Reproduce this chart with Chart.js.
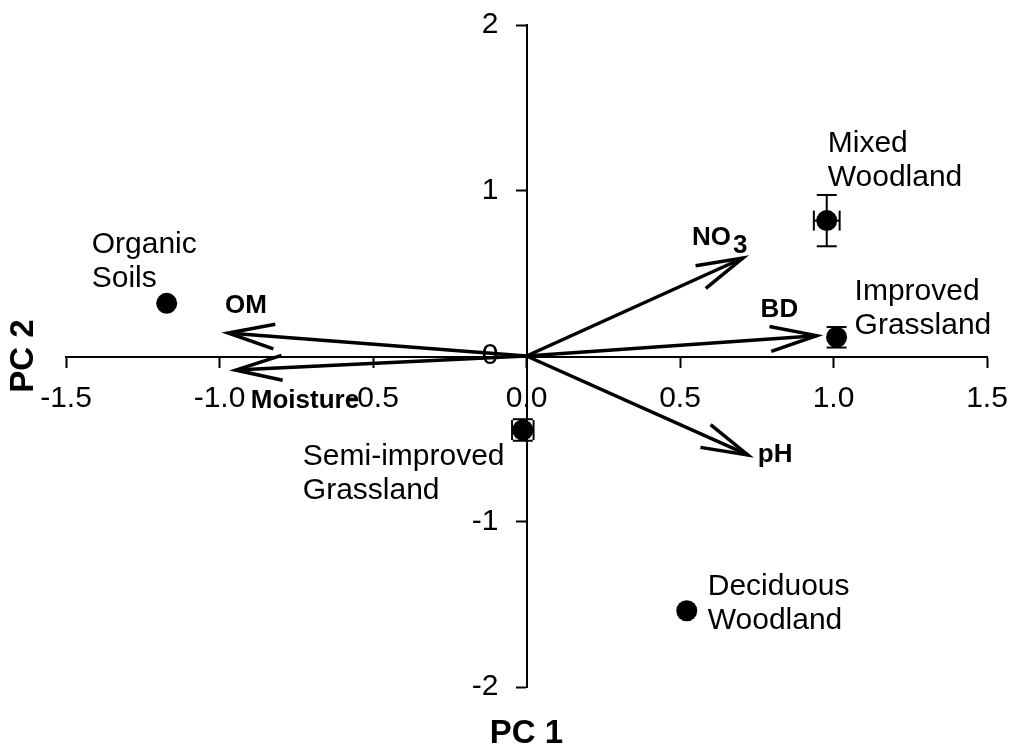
<!DOCTYPE html>
<html>
<head>
<meta charset="utf-8">
<script src="https://cdn.jsdelivr.net/npm/chart.js@4.4.1/dist/chart.umd.min.js"></script>
<style>
  html, body { margin: 0; padding: 0; background: #fff; }
  #wrap { width: 1012px; height: 751px; }
</style>
</head>
<body>
<div id="wrap"><canvas id="biplot" width="1012" height="751"></canvas></div>
<script>
// Site scores (mean PC1 / PC2 with standard errors)
const siteNames = [['Organic', 'Soils'], ['Mixed', 'Woodland'], ['Improved', 'Grassland'], ['Semi-improved', 'Grassland'], ['Deciduous', 'Woodland']];
const siteX = [-1.172, 0.978, 1.010, -0.012, 0.522];
const siteY = [0.318, 0.818, 0.113, -0.447, -1.539];
const siteXErr = [0, 0.042, 0, 0.035, 0];
const siteYErr = [0, 0.155, 0.062, 0.065, 0];

// Variable loadings (arrow tips)
const varNames = ['OM', 'Moisture', 'NO3', 'BD', 'pH'];
const varX = [-0.972, -0.947, 0.705, 0.945, 0.721];
const varY = [0.139, -0.085, 0.592, 0.123, -0.598];

// Axis tick labels
const xTickLabels = ['-1.5', '-1.0', '-0.5', '0.0', '0.5', '1.0', '1.5'];
const yTickLabels = ['-2', '-1', '0', '1', '2'];

const FAMILY = '"Liberation Sans", Arial, Helvetica, sans-serif';

// Label placement in pixels relative to the marker / arrow tip: [dx, first baseline dy]
const siteLabelOffset = [[-75, -50], [1, -69], [18, -37], [-220, 35], [21, -16]];
const siteLineGap = 34;
const varLabelOffset = [[-3, -20], [15, 38], [-51, -13], [-56, -19], [10, 7]];

const HEAD_LEN = 48;
const HEAD_ANGLE = 15 * Math.PI / 180;
const CAP = 10;

function seg(ctx, x1, y1, x2, y2) {
  ctx.beginPath(); ctx.moveTo(x1, y1); ctx.lineTo(x2, y2); ctx.stroke();
}

const biplotExtras = {
  id: 'biplotExtras',
  afterDatasetsDraw(chart) {
    const { ctx, scales: { x, y } } = chart;
    ctx.save();
    ctx.strokeStyle = '#000';
    ctx.fillStyle = '#000';

    // error bars with caps
    ctx.lineWidth = 2;
    siteX.forEach((sx, i) => {
      const px = x.getPixelForValue(sx);
      const py = y.getPixelForValue(siteY[i]);
      if (siteXErr[i] > 0) {
        const l = x.getPixelForValue(sx - siteXErr[i]);
        const r = x.getPixelForValue(sx + siteXErr[i]);
        seg(ctx, l, py, r, py);
        seg(ctx, l, py - CAP, l, py + CAP);
        seg(ctx, r, py - CAP, r, py + CAP);
      }
      if (siteYErr[i] > 0) {
        const t = y.getPixelForValue(siteY[i] + siteYErr[i]);
        const b = y.getPixelForValue(siteY[i] - siteYErr[i]);
        seg(ctx, px, t, px, b);
        seg(ctx, px - CAP, t, px + CAP, t);
        seg(ctx, px - CAP, b, px + CAP, b);
      }
    });

    // open arrowheads on the loading vectors
    ctx.lineWidth = 3.5;
    ctx.lineJoin = 'miter';
    const ox = x.getPixelForValue(0), oy = y.getPixelForValue(0);
    varX.forEach((vx, i) => {
      const tx = x.getPixelForValue(vx), ty = y.getPixelForValue(varY[i]);
      const a = Math.atan2(ty - oy, tx - ox) + Math.PI;
      ctx.beginPath();
      ctx.moveTo(tx + HEAD_LEN * Math.cos(a + HEAD_ANGLE), ty + HEAD_LEN * Math.sin(a + HEAD_ANGLE));
      ctx.lineTo(tx, ty);
      ctx.lineTo(tx + HEAD_LEN * Math.cos(a - HEAD_ANGLE), ty + HEAD_LEN * Math.sin(a - HEAD_ANGLE));
      ctx.stroke();
    });

    // site labels
    ctx.textAlign = 'left';
    ctx.textBaseline = 'alphabetic';
    ctx.font = '30px ' + FAMILY;
    siteNames.forEach((lines, i) => {
      const px = x.getPixelForValue(siteX[i]);
      const py = y.getPixelForValue(siteY[i]);
      const [dx, dy] = siteLabelOffset[i];
      lines.forEach((t, k) => ctx.fillText(t, px + dx, py + dy + k * siteLineGap));
    });

    // variable labels (NO3 gets a subscript)
    ctx.font = 'bold 26px ' + FAMILY;
    varNames.forEach((name, i) => {
      const tx = x.getPixelForValue(varX[i]);
      const ty = y.getPixelForValue(varY[i]);
      const [dx, dy] = varLabelOffset[i];
      const m = name.match(/^([A-Za-z]+)(\d+)$/);
      if (m) {
        ctx.fillText(m[1], tx + dx, ty + dy);
        const w = ctx.measureText(m[1]).width;
        ctx.fillText(m[2], tx + dx + w + 2, ty + dy + 8);
      } else {
        ctx.fillText(name, tx + dx, ty + dy);
      }
    });
    ctx.restore();
  }
};

const siteData = siteX.map((v, i) => ({ x: v, y: siteY[i] }));
const arrowSets = varNames.map((n, i) => ({
  label: n,
  data: [{ x: 0, y: 0 }, { x: varX[i], y: varY[i] }],
  showLine: true,
  borderColor: '#000',
  borderWidth: 3.5,
  pointRadius: 0,
  fill: false
}));

const titleFont = { family: FAMILY, size: 33, weight: 'bold', lineHeight: 1 };

new Chart(document.getElementById('biplot'), {
  type: 'scatter',
  data: {
    datasets: [
      ...arrowSets,
      {
        label: 'Sites',
        data: siteData,
        pointRadius: 10.5,
        pointHoverRadius: 10.5,
        backgroundColor: '#000',
        borderColor: '#000',
        borderWidth: 0
      }
    ]
  },
  options: {
    responsive: false,
    animation: false,
    events: [],
    layout: { padding: { top: 25, right: 25, bottom: 0, left: 0 } },
    scales: {
      x: {
        type: 'linear',
        position: 'center',
        min: -1.5,
        max: 1.5,
        ticks: {
          stepSize: 0.5,
          autoSkip: false,
          maxRotation: 0,
          padding: 3,
          color: '#000',
          font: { family: FAMILY, size: 30, lineHeight: 2.0 },
          callback: (v, i) => xTickLabels[i]
        },
        grid: { display: true, drawOnChartArea: false, drawTicks: true, tickLength: 10, tickWidth: 2, tickColor: '#000' },
        border: { display: true, color: '#000', width: 2 }
      },
      y: {
        type: 'linear',
        position: 'center',
        min: -2,
        max: 2,
        ticks: {
          stepSize: 1,
          autoSkip: false,
          padding: 18,
          color: '#000',
          font: { family: FAMILY, size: 30, lineHeight: 0.4 },
          callback: (v, i) => yTickLabels[i]
        },
        grid: { display: true, drawOnChartArea: false, drawTicks: true, tickLength: 10, tickWidth: 2, tickColor: '#000' },
        border: { display: true, color: '#000', width: 2 }
      }
    },
    plugins: {
      legend: { display: false },
      tooltip: { enabled: false },
      title: {
        display: true,
        text: 'PC 1',
        position: 'bottom',
        fullSize: false,
        color: '#000',
        font: titleFont,
        padding: { top: 30.5, bottom: 0.5 }
      },
      subtitle: {
        display: true,
        text: 'PC 2',
        position: 'left',
        fullSize: false,
        color: '#000',
        font: titleFont,
        padding: { top: 7.5, bottom: 25.5 }
      }
    }
  },
  plugins: [biplotExtras]
});
</script>
</body>
</html>
